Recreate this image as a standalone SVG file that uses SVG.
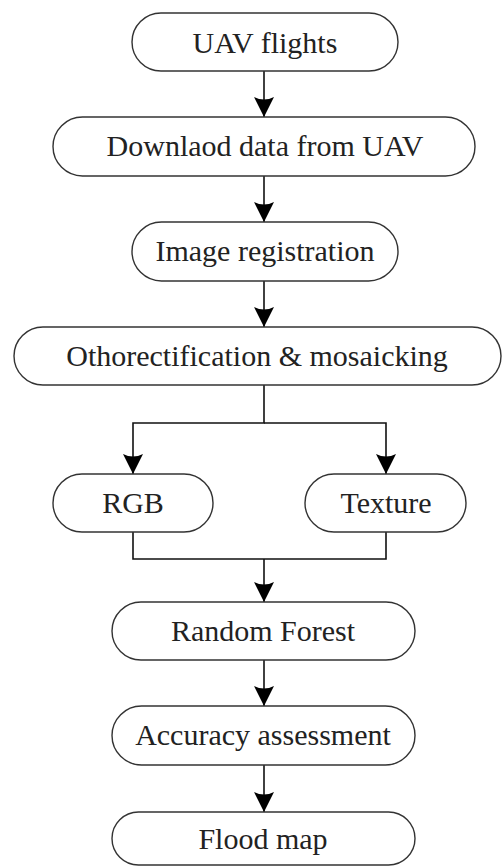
<svg xmlns="http://www.w3.org/2000/svg" width="503" height="867" viewBox="0 0 503 867">
<defs>
<marker id="ah" markerUnits="userSpaceOnUse" markerWidth="22" markerHeight="22" viewBox="0 0 22 22" refX="20" refY="11" orient="auto">
<path d="M0,1 L20,11 L0,21 Q5,11 0,1 Z" fill="#000"/>
</marker>
<style>
.box{fill:#fff;stroke:#333;stroke-width:1.4}
.t{font-family:"Liberation Serif","Times New Roman",serif;font-size:30px;fill:#222;text-anchor:middle}
.c{fill:none;stroke:#111;stroke-width:1.6}
</style>
</defs>
<rect width="503" height="867" fill="#fff"/>
<g id="connectors">
<line class="c" x1="264" y1="71" x2="264" y2="117" marker-end="url(#ah)"/>
<line class="c" x1="264" y1="176" x2="264" y2="222" marker-end="url(#ah)"/>
<line class="c" x1="264" y1="281" x2="264" y2="327" marker-end="url(#ah)"/>
<polyline class="c" points="264,385 264,423 133,423 133,474" marker-end="url(#ah)"/>
<polyline class="c" points="264,423 386,423 386,474" marker-end="url(#ah)"/>
<polyline class="c" points="133,532 133,559 386,559 386,532"/>
<line class="c" x1="264" y1="559" x2="264" y2="602" marker-end="url(#ah)"/>
<line class="c" x1="264" y1="660" x2="264" y2="706" marker-end="url(#ah)"/>
<line class="c" x1="264" y1="765" x2="264" y2="812" marker-end="url(#ah)"/>
</g>
<g id="n1"><rect class="box" x="132" y="13" width="266" height="58" rx="29"/><text class="t" x="265" y="53">UAV flights</text></g>
<g id="n2"><rect class="box" x="53" y="117" width="422" height="59" rx="29.5"/><text class="t" x="265" y="156">Downlaod data from UAV</text></g>
<g id="n3"><rect class="box" x="132" y="222" width="266" height="59" rx="29.5"/><text class="t" x="265" y="261">Image registration</text></g>
<g id="n4"><rect class="box" x="14" y="327" width="487" height="58" rx="29"/><text class="t" x="257" y="366">Othorectification &amp; mosaicking</text></g>
<g id="n5"><rect class="box" x="53" y="474" width="160" height="58" rx="29"/><text class="t" x="133" y="513">RGB</text></g>
<g id="n6"><rect class="box" x="305" y="474" width="161" height="58" rx="29"/><text class="t" x="386" y="513">Texture</text></g>
<g id="n7"><rect class="box" x="112" y="602" width="303" height="58" rx="29"/><text class="t" x="263" y="641">Random Forest</text></g>
<g id="n8"><rect class="box" x="112" y="706" width="303" height="59" rx="29.5"/><text class="t" x="263" y="745">Accuracy assessment</text></g>
<g id="n9"><rect class="box" x="112" y="812" width="303" height="53" rx="26.5"/><text class="t" x="263" y="849">Flood map</text></g>
</svg>
